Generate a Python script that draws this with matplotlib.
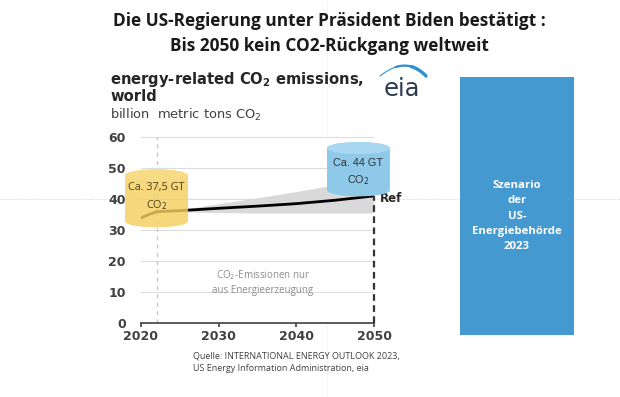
import numpy as np
import matplotlib.pyplot as plt
from matplotlib.patches import Polygon, Ellipse, Rectangle

# ---- Daten ----
years = [2020, 2021, 2022, 2023, 2026, 2030, 2035, 2040, 2045, 2050]
emissions = [33.9, 35.0, 35.9, 36.0, 36.4, 37.0, 37.7, 38.5, 39.6, 41.0]

band_years = [2023, 2026, 2030, 2035, 2040, 2045, 2050]
band_low = [36.0, 35.8, 35.6, 35.5, 35.5, 35.5, 35.5]
band_high = [36.2, 36.9, 38.5, 40.4, 42.4, 44.6, 46.5]

yticks = [0, 10, 20, 30, 40, 50, 60]
xticks = [2020, 2030, 2040, 2050]

W, H = 620, 397


def fx(px):
    return px / W


def fy(py):
    return 1 - py / H


fig = plt.figure(figsize=(6.2, 3.97), dpi=100)
fig.patch.set_facecolor('white')

# Hilfslinien der Folie (gepunktet, sehr hell)
fig.add_artist(plt.Line2D([0, 1], [fy(199), fy(199)], transform=fig.transFigure,
                          color='#c8c8c8', lw=0.6, ls=(0, (1, 1.5)), zorder=0))
fig.add_artist(plt.Line2D([fx(327), fx(327)], [0, 1], transform=fig.transFigure,
                          color='#e4e4e4', lw=0.6, ls=(0, (1, 1.5)), zorder=0))

# Titel
fig.text(fx(329), fy(21), "Die US-Regierung unter Präsident Biden bestätigt :",
         ha='center', va='center', fontsize=12.4, fontweight='bold', family='Open Sans', color='#1a1a1a')
fig.text(fx(329), fy(46), "Bis 2050 kein CO2-Rückgang weltweit",
         ha='center', va='center', fontsize=12.4, fontweight='bold', family='Open Sans', color='#1a1a1a')

# Diagrammkopf
fig.text(fx(110), fy(87), "energy-related CO$_\\mathbf{2}$ emissions,\nworld",
         ha='left', va='center', fontsize=10.6, fontweight='bold', family='DejaVu Sans',
         color='#262626', linespacing=0.98)
fig.text(fx(110), fy(115), "billion  metric tons CO$_2$",
         ha='left', va='center', fontsize=9.4, family='DejaVu Sans', color='#404040')

# eia-Logo
fig.text(fx(402), fy(89), "eia", ha='center', va='center', fontsize=17.5,
         family='DejaVu Sans', color='#2b3a52')
t = np.linspace(0, 1, 60)
sx = 380 + 46 * t
sy = 76 - 36 * t * (1 - t) * (1 + 0.3 * t)
for k, lw in enumerate([0.8, 1.6, 2.4]):
    seg = slice(k * 20, 60)
    fig.add_artist(plt.Line2D(fx(sx[seg]), fy(sy[seg]), transform=fig.transFigure,
                              color='#2e8fd3', lw=lw, solid_capstyle='round'))

# Hauptdiagramm
ax = fig.add_axes([fx(141), fy(323), fx(374) - fx(141), (323 - 137) / H])
ax.set_xlim(2020, 2050)
ax.set_ylim(0, 60)
for s in ['top', 'right', 'left']:
    ax.spines[s].set_visible(False)
ax.spines['bottom'].set_color('#404040')
ax.spines['bottom'].set_linewidth(1.2)
ax.set_yticks(yticks)
ax.set_xticks(xticks)
ax.tick_params(axis='y', length=0, pad=11, labelsize=9, labelcolor='#404040')
ax.tick_params(axis='x', length=3, width=1.2, color='#404040', pad=2, labelsize=9, labelcolor='#404040')
for lab in ax.get_xticklabels() + ax.get_yticklabels():
    lab.set_fontweight('bold')
    lab.set_family('DejaVu Sans')
for yv in yticks[1:]:
    ax.axhline(yv, color='#dcdcdc', lw=0.8, zorder=0)
ax.plot([2022, 2022], [0, 60], color='#c8c8c8', lw=1, ls=(0, (3, 3)), zorder=1)

ax.fill_between(band_years, band_low, band_high, color='#d9d9d9', lw=0, zorder=2)
ax.plot(years, emissions, color='black', lw=2, zorder=3, solid_capstyle='round')
ax.plot([2050, 2050], [0, emissions[-1]], color='#333333', lw=1.6, ls=(0, (3, 2)), zorder=3, clip_on=False)
ax.text(2050.8, emissions[-1] - 0.8, "Ref", ha='left', va='center', fontsize=8.5,
        fontweight='bold', family='DejaVu Sans', color='#262626')


def cylinder(xc, w, ytop, ybot, eh, body, top, alpha):
    tt = np.linspace(0, np.pi, 60)
    upper = np.column_stack([xc + w / 2 * np.cos(tt), ytop + eh / 2 * np.sin(tt)])
    lower = np.column_stack([xc - w / 2 * np.cos(tt), ybot - eh / 2 * np.sin(tt)])
    pts = np.vstack([upper, lower])
    ax.add_patch(Polygon(pts, closed=True, facecolor=body, edgecolor='none', alpha=alpha,
                         zorder=4, clip_on=False))
    ax.add_patch(Ellipse((xc, ytop), w, eh, facecolor=top, edgecolor='none', zorder=5, clip_on=False))


cylinder(2022.0, 8.1, 47.6, 32.8, 3.9, '#f5cf5f', '#f8dc85', 0.82)
cylinder(2048.0, 8.1, 56.4, 42.8, 3.9, '#8ec9ea', '#a8d7f1', 1.0)

ax.text(2022.0, 43.6, "Ca. 37,5 GT", ha='center', va='center', fontsize=7.8,
        family='Open Sans', color='#4a3f1e', zorder=6)
ax.text(2022.0, 38.0, "CO$_2$", ha='center', va='center', fontsize=7.8,
        family='Open Sans', color='#4a3f1e', zorder=6)
ax.text(2048.0, 51.6, "Ca. 44 GT", ha='center', va='center', fontsize=7.8,
        family='Liberation Sans', color='#333333', zorder=6)
ax.text(2048.0, 46.0, "CO$_2$", ha='center', va='center', fontsize=7.8,
        family='Liberation Sans', color='#333333', zorder=6)

ax.text(2035.7, 13.2, "CO$_2$-Emissionen nur\naus Energieerzeugung", ha='center', va='center',
        fontsize=7, family='Open Sans', color='#8c8c8c', linespacing=1.3, zorder=6)

# Blaue Box rechts
fig.add_artist(Rectangle((fx(460), fy(335)), fx(574) - fx(460), (335 - 77) / H,
                         transform=fig.transFigure, facecolor='#4499d1', edgecolor='none', zorder=1))
fig.text(fx(517), fy(216), "Szenario\nder\nUS-\nEnergiebehörde\n2023", ha='center', va='center',
         fontsize=8.2, fontweight='bold', family='Open Sans', color='white', linespacing=1.55, zorder=2)

# Quelle
fig.text(fx(193), fy(362), "Quelle: INTERNATIONAL ENERGY OUTLOOK 2023,\nUS Energy Information Administration, eia",
         ha='left', va='center', fontsize=6.5, family='Open Sans', color='#404040', linespacing=1.5)

fig.savefig('out.png', dpi=100)
